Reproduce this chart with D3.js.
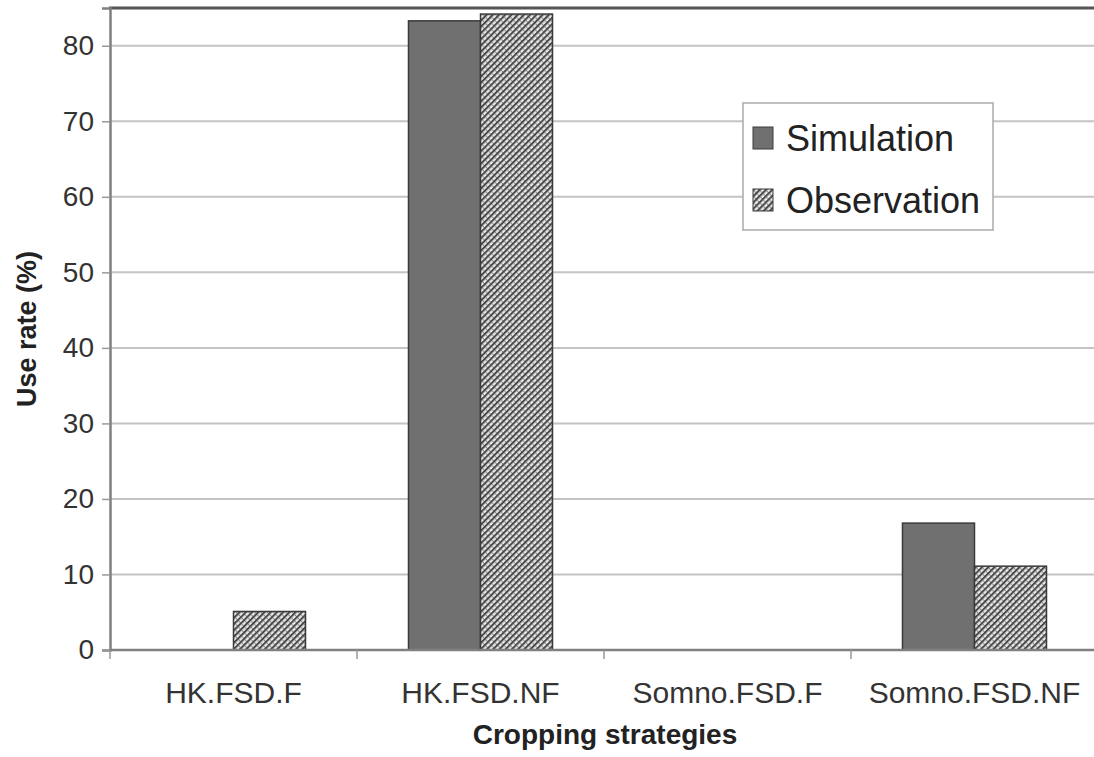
<!DOCTYPE html>
<html>
<head>
<meta charset="utf-8">
<script src="https://cdn.jsdelivr.net/npm/d3@7"></script>
<style>
  body { margin: 0; background: #fff; }
  text { font-family: "Liberation Sans", Arial, sans-serif; }
</style>
</head>
<body>
<div id="chart"></div>
<script>
// Chart data
const categories = ["HK.FSD.F", "HK.FSD.NF", "Somno.FSD.F", "Somno.FSD.NF"];
const seriesNames = ["Simulation", "Observation"];
const simulation = [0, 83.3, 0, 16.8];
const observation = [5.1, 84.2, 0, 11.1];
const yTicks = [0, 10, 20, 30, 40, 50, 60, 70, 80];

const svgWidth = 1094, svgHeight = 757;
const plotLeft = 110, plotRight = 1098, plotTop = 8, plotBottom = 650;

const svg = d3.select("#chart").append("svg")
  .attr("width", svgWidth)
  .attr("height", svgHeight);

// Hatch pattern for the observation bars (fine diagonal, slightly checkered)
const defs = svg.append("defs");
const pat = defs.append("pattern")
  .attr("id", "hatch")
  .attr("patternUnits", "userSpaceOnUse")
  .attr("width", 4.4)
  .attr("height", 4.4)
  .attr("patternTransform", "rotate(45)");
pat.append("rect").attr("width", 4.4).attr("height", 4.4).attr("fill", "#e8e8e8");
pat.append("rect").attr("width", 2).attr("height", 4.4).attr("fill", "#4a4a4a");
pat.append("rect").attr("x", 2).attr("width", 2.4).attr("height", 1).attr("fill", "#8a8a8a");

// Scales
const x0 = d3.scaleBand().domain(categories).range([plotLeft, plotRight]);
const x1 = d3.scaleBand().domain(seriesNames).range([0, x0.bandwidth()]).paddingOuter(0.715);
const y = d3.scaleLinear().domain([0, 85]).range([plotBottom, plotTop]);

// Gridlines
svg.append("g")
  .selectAll("line")
  .data(yTicks.filter(d => d > 0))
  .join("line")
    .attr("x1", plotLeft).attr("x2", svgWidth)
    .attr("y1", d => y(d)).attr("y2", d => y(d))
    .attr("stroke", "#c4c4c4")
    .attr("stroke-width", 2);

// Top border
svg.append("line")
  .attr("x1", plotLeft - 1).attr("x2", svgWidth)
  .attr("y1", plotTop).attr("y2", plotTop)
  .attr("stroke", "#555")
  .attr("stroke-width", 3);

// Bars
const rows = categories.map((c, i) => ({category: c, values: [
  {series: "Simulation", value: simulation[i]},
  {series: "Observation", value: observation[i]}
]}));

const groups = svg.append("g")
  .selectAll("g")
  .data(rows)
  .join("g")
    .attr("transform", d => "translate(" + x0(d.category) + ",0)");

groups.selectAll("rect")
  .data(d => d.values.filter(v => v.value > 0))
  .join("rect")
    .attr("x", d => x1(d.series))
    .attr("width", x1.bandwidth())
    .attr("y", d => y(d.value))
    .attr("height", d => y(0) - y(d.value))
    .attr("fill", d => d.series === "Simulation" ? "#707070" : "url(#hatch)")
    .attr("stroke", "#3a3a3a")
    .attr("stroke-width", 1.5);

// Y axis
const yAxis = d3.axisLeft(y).tickValues(yTicks).tickSize(8).tickPadding(8);
const gy = svg.append("g")
  .attr("transform", "translate(" + plotLeft + ",0)")
  .call(yAxis);
gy.select(".domain").attr("stroke", "#808080").attr("stroke-width", 2.5);
gy.selectAll(".tick line").attr("stroke", "#999").attr("stroke-width", 1.5);
gy.selectAll(".tick text")
  .attr("fill", "#333")
  .style("font-size", "28px");

// X axis
const xAxis = d3.axisBottom(x0).tickSize(0).tickPadding(0);
const gx = svg.append("g")
  .attr("transform", "translate(0," + plotBottom + ")")
  .call(xAxis);
gx.select(".domain").remove();
gx.append("line")
  .attr("x1", plotLeft).attr("x2", svgWidth)
  .attr("stroke", "#808080").attr("stroke-width", 2.5);
gx.selectAll(".tick text")
  .attr("y", 53)
  .attr("dy", 0)
  .attr("fill", "#333")
  .style("font-size", "30px");

// Separator ticks between categories
gx.append("g")
  .selectAll("line")
  .data(categories)
  .join("line")
    .attr("x1", d => x0(d)).attr("x2", d => x0(d))
    .attr("y1", 0).attr("y2", 9)
    .attr("stroke", "#999")
    .attr("stroke-width", 1.5);

// Axis titles
svg.append("text")
  .attr("x", (plotLeft + svgWidth) / 2 + 3)
  .attr("y", 744)
  .attr("text-anchor", "middle")
  .style("font-size", "28px")
  .style("font-weight", "bold")
  .attr("fill", "#222")
  .text("Cropping strategies");

svg.append("text")
  .attr("transform", "translate(36," + ((plotTop + plotBottom) / 2) + ") rotate(-90)")
  .attr("text-anchor", "middle")
  .style("font-size", "27px")
  .style("font-weight", "bold")
  .attr("fill", "#222")
  .text("Use rate (%)");

// Legend
const legend = svg.append("g").attr("transform", "translate(743,103)");
legend.append("rect")
  .attr("width", 250).attr("height", 127)
  .attr("fill", "#fff")
  .attr("stroke", "#aaa")
  .attr("stroke-width", 1.5);

const items = legend.selectAll(".item")
  .data(seriesNames)
  .join("g")
    .attr("class", "item")
    .attr("transform", (d, i) => "translate(10," + (24 + i * 62) + ")");

items.append("rect")
  .attr("width", 20).attr("height", 22)
  .attr("fill", d => d === "Simulation" ? "#707070" : "url(#hatch)")
  .attr("stroke", "#3a3a3a")
  .attr("stroke-width", 1);

items.append("text")
  .attr("x", 33)
  .attr("y", 24)
  .style("font-size", "36px")
  .attr("fill", "#222")
  .text(d => d);
</script>
</body>
</html>
